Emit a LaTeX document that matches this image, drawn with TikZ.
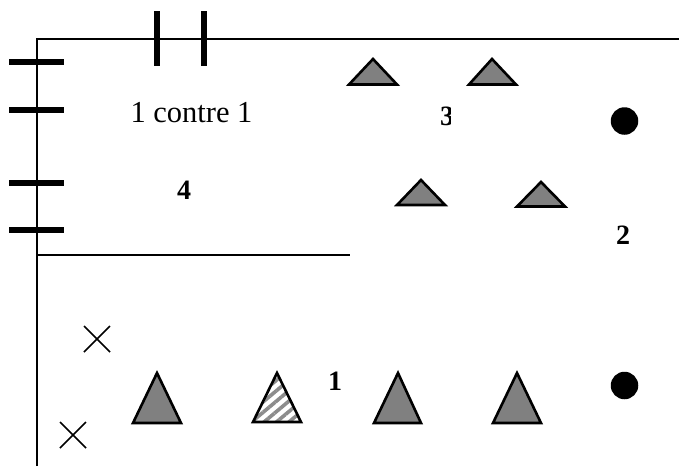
\documentclass[tikz,border=0pt]{standalone}
\usepackage{fontspec}
\setmainfont{Liberation Serif}
\usetikzlibrary{patterns.meta}
\tikzset{
  frameline/.style={draw=black,line width=2pt},
  tick/.style={draw=black,line width=5.6pt},
  tri/.style={draw=black,line width=2.6pt,fill=black!50,line join=miter},
  hatchtri/.style={draw=black,line width=2.6pt,line join=miter,pattern={Lines[angle=40,distance=8pt,line width=3.6pt]},pattern color=black!45},
  dot/.style={circle,fill=black,inner sep=0pt,minimum size=27.5pt},
  cross/.style={draw=black,line width=1.6pt},
  plainlbl/.style={font=\fontsize{30.5}{30.5}\selectfont,inner sep=0pt},
  boldlbl/.style={font=\fontsize{28}{28}\selectfont\bfseries,inner sep=0pt}
}
\begin{document}
\begin{tikzpicture}[x=1pt,y=-1pt]
\useasboundingbox (0,0) rectangle (679,466);
\fill[white] (0,0) rectangle (679,466);
% frame
\coordinate (c0) at (37,466);
\coordinate (c1) at (37,39);
\coordinate (c2) at (679,39);
\coordinate (c3) at (37,255);
\coordinate (c4) at (350,255);
\draw[frameline] (c0) -- (c1) -- (c2);
\draw[frameline] (c3) -- (c4);
% ticks
\draw[tick] (157,11) -- (157,66);
\draw[tick] (204,11) -- (204,66);
\draw[tick] (9,62) -- (64,62);
\draw[tick] (9,110) -- (64,110);
\draw[tick] (9,183) -- (64,183);
\draw[tick] (9,230) -- (64,230);
% upper triangles
\draw[tri] (373,59) -- (397,84.5) -- (349,84.5) -- cycle;
\draw[tri] (492,59) -- (516,84.5) -- (469,84.5) -- cycle;
\draw[tri] (421,180) -- (445,205) -- (397,205) -- cycle;
\draw[tri] (541,182) -- (565,206.5) -- (517,206.5) -- cycle;
% lower triangles
\draw[tri] (157,373) -- (181,423) -- (133,423) -- cycle;
\draw[hatchtri] (277,373) -- (301,422) -- (253,422) -- cycle;
\draw[tri] (398,373) -- (421,423) -- (374,423) -- cycle;
\draw[tri] (517,373) -- (541,423) -- (493,423) -- cycle;
% dots
\node[dot] (d1) at (624.5,121) {};
\node[dot] (d2) at (624.5,385.5) {};
% crosses
\draw[cross] (84,326) -- (110,352);
\draw[cross] (84,352) -- (110,326);
\draw[cross] (60,422) -- (86,448);
\draw[cross] (60,448) -- (86,422);
% labels
\node[plainlbl] (t0) at (191.5,113) {1 contre 1};
\node[boldlbl] (t4) at (184,190) {4};
\node[boldlbl] (t3) at (447,116) {3};
\fill[white] (450.5,100) rectangle (460,132);
\node[boldlbl] (t2) at (623,235) {2};
\node[boldlbl] (t1) at (335,381) {1};
\end{tikzpicture}
\end{document}
